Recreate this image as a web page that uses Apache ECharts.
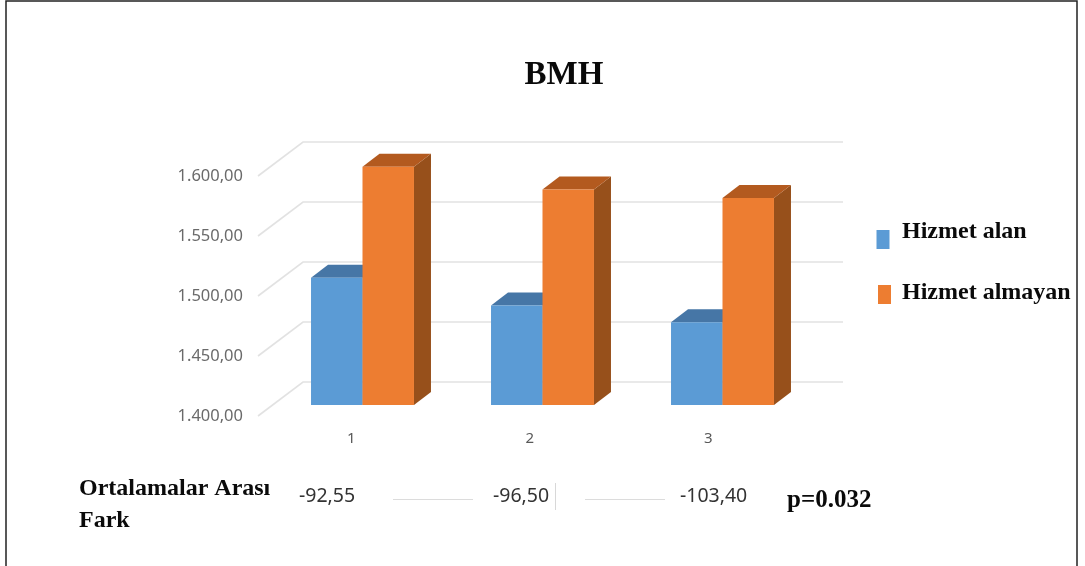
<!DOCTYPE html>
<html>
<head>
<meta charset="utf-8">
<style>html,body{margin:0;padding:0;background:#fff}#chart{width:1085px;height:566px}</style>
<script src="https://cdn.jsdelivr.net/npm/echarts@6/dist/echarts.min.js"></script>
</head>
<body>
<div id="chart"></div>
<script>
// BMH means for the two groups at each measurement
const categories = ['1', '2', '3'];
const hizmetAlan = [1506.05, 1483.0, 1469.0];
const hizmetAlmayan = [1598.6, 1579.5, 1572.4];
const yTicks = [1400, 1450, 1500, 1550, 1600];
const yTickLabels = ['1.400,00', '1.450,00', '1.500,00', '1.550,00', '1.600,00'];
const seriesNames = ['Hizmet alan', 'Hizmet almayan'];
const meanDifferences = ['-92,55', '-96,50', '-103,40'];

const SERIF = '"Liberation Serif", serif';
const SANS = '"Noto Sans", sans-serif';

// Shaded faces of a pseudo-3D column
const DEPTH_X = 17, DEPTH_Y = 13;
function columnRenderer(side, front, top, flank) {
  return function (params, api) {
    const base = api.coord([api.value(0), 1400]);
    const head = api.coord([api.value(0), api.value(1)]);
    const w = api.size([1, 0])[0] * 0.286;
    const x0 = side < 0 ? head[0] - w : head[0];
    const x1 = x0 + w;
    const y0 = head[1], y1 = base[1];
    const poly = (points, color) => ({ type: 'polygon', shape: { points }, style: { fill: color } });
    return {
      type: 'group',
      children: [
        poly([[x1, y0], [x1 + DEPTH_X, y0 - DEPTH_Y], [x1 + DEPTH_X, y1 - DEPTH_Y], [x1, y1]], flank),
        poly([[x0, y0], [x0 + DEPTH_X, y0 - DEPTH_Y], [x1 + DEPTH_X, y0 - DEPTH_Y], [x1, y0]], top),
        poly([[x0, y0], [x1, y0], [x1, y1], [x0, y1]], front)
      ]
    };
  };
}

// Gridline running along the floor edge, then along the back wall
function wallLine(params, api) {
  const y = api.coord([0, api.value(0)])[1];
  const cs = params.coordSys;
  return {
    type: 'polyline',
    shape: { points: [[cs.x - 4, y], [cs.x + 41, y - 34], [843, y - 34]] },
    style: { stroke: '#e2e2e2', lineWidth: 1.6, fill: null }
  };
}

const note = (text, left, top, font, color) => ({
  type: 'text', left, top,
  style: { text, font, fill: color || '#0a0a0a', lineHeight: 32 }
});

const chart = echarts.init(document.getElementById('chart'));
chart.setOption({
  animation: false,
  backgroundColor: '#fff',
  title: {
    text: 'BMH', left: 559, top: 54, textAlign: 'center',
    textStyle: { fontFamily: SERIF, fontWeight: 'bold', fontSize: 33, color: '#0a0a0a' }
  },
  // Swatches only; the two captions sit slightly above them in the graphic layer
  legend: [
    {
      data: [seriesNames[0]], left: 871.5, top: 225, icon: 'rect',
      itemWidth: 13, itemHeight: 19, selectedMode: false, formatter: () => ''
    },
    {
      data: [seriesNames[1]], left: 873, top: 280, icon: 'rect',
      itemWidth: 13, itemHeight: 19, selectedMode: false, formatter: () => ''
    }
  ],
  grid: [
    { left: 262, width: 535.5, top: 176, height: 240 },
    { left: 272.5, width: 540, top: 165, height: 240 }
  ],
  xAxis: [
    {
      gridIndex: 0, type: 'category', data: categories,
      axisLine: { show: false }, axisTick: { show: false },
      axisLabel: { margin: 15, fontFamily: SANS, fontSize: 15, color: '#595959' }
    },
    { gridIndex: 1, type: 'category', data: categories, show: false }
  ],
  yAxis: [
    {
      gridIndex: 0, type: 'value', min: 1400, max: 1600, interval: 50,
      axisLine: { show: false }, axisTick: { show: false }, splitLine: { show: false },
      axisLabel: {
        margin: 19, fontFamily: SANS, fontSize: 16.5, color: '#6a6a6a',
        formatter: v => yTickLabels[yTicks.indexOf(v)]
      }
    },
    { gridIndex: 1, type: 'value', min: 1400, max: 1600, show: false }
  ],
  series: [
    {
      type: 'custom', name: 'grid', xAxisIndex: 0, yAxisIndex: 0,
      data: yTicks.map(v => [v]), renderItem: wallLine, silent: true,
      encode: { y: 0 }, z: 1
    },
    {
      type: 'custom', name: seriesNames[0], xAxisIndex: 1, yAxisIndex: 1,
      itemStyle: { color: '#5b9bd5' },
      data: categories.map((c, i) => [i, hizmetAlan[i]]),
      renderItem: columnRenderer(-1, '#5b9bd5', '#4676a6', '#3f6e9a'), z: 2
    },
    {
      type: 'custom', name: seriesNames[1], xAxisIndex: 1, yAxisIndex: 1,
      itemStyle: { color: '#ed7d31' },
      data: categories.map((c, i) => [i, hizmetAlmayan[i]]),
      renderItem: columnRenderer(1, '#ed7d31', '#b35a1f', '#97501b'), z: 3
    }
  ],
  graphic: [
    // Page frame
    { type: 'polyline', shape: { points: [[6, 566], [6, 1], [1077, 1], [1077, 566]] }, style: { stroke: '#222', lineWidth: 1.5, fill: null } },
    // Legend captions
    note(seriesNames[0], 902, 216, 'bold 24px ' + SERIF),
    note(seriesNames[1], 902, 277, 'bold 24px ' + SERIF),
    // Row of mean differences under the chart
    note('Ortalamalar Arası\nFark', 79, 473, 'bold 24px ' + SERIF),
    note(meanDifferences[0], 299, 480, '19.5px ' + SANS, '#333'),
    note(meanDifferences[1], 493, 480, '19.5px ' + SANS, '#333'),
    note(meanDifferences[2], 680, 480, '19.5px ' + SANS, '#333'),
    note('p=0.032', 787, 485, 'bold 25px ' + SERIF),
    { type: 'line', shape: { x1: 393, y1: 499.5, x2: 473, y2: 499.5 }, style: { stroke: '#dcdcdc', lineWidth: 1.2 } },
    { type: 'line', shape: { x1: 585, y1: 499.5, x2: 665, y2: 499.5 }, style: { stroke: '#dcdcdc', lineWidth: 1.2 } },
    { type: 'line', shape: { x1: 555.5, y1: 483, x2: 555.5, y2: 510 }, style: { stroke: '#d8d8d8', lineWidth: 1 } }
  ]
});
</script>
</body>
</html>
